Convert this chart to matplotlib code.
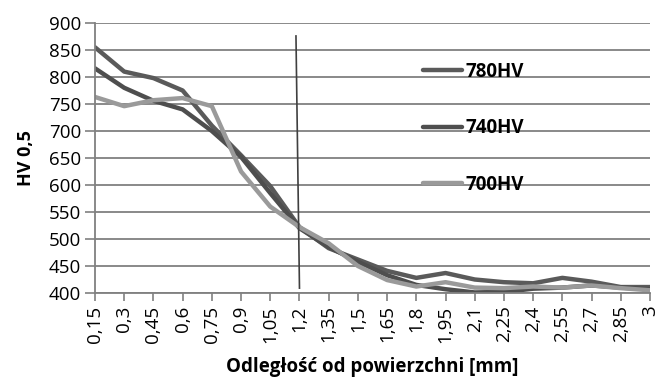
import matplotlib.pyplot as plt

# Dane - twardość HV 0,5 w funkcji odległości od powierzchni
odleglosc = ["0,15", "0,3", "0,45", "0,6", "0,75", "0,9", "1,05", "1,2", "1,35", "1,5",
             "1,65", "1,8", "1,95", "2,1", "2,25", "2,4", "2,55", "2,7", "2,85", "3"]
hv_780 = [855, 810, 798, 775, 710, 655, 598, 522, 483, 462,
          441, 428, 437, 425, 420, 418, 428, 421, 411, 411]
hv_740 = [816, 780, 756, 740, 700, 652, 585, 520, 485, 458,
          433, 415, 407, 401, 402, 408, 410, 414, 410, 407]
hv_700 = [763, 746, 757, 761, 746, 625, 560, 522, 492, 450,
          424, 412, 420, 410, 409, 412, 410, 414, 409, 405]
etykiety = ["780HV", "740HV", "700HV"]

# linia graniczna (1,2 mm)
granica_x = [6.88, 7.0]
granica_y = [876, 409]

plt.rcParams['font.family'] = ['Open Sans', 'DejaVu Sans']

fig = plt.figure(figsize=(6.55, 3.8), dpi=100)
ax = fig.add_axes([95 / 655, 1 - 293 / 380, 555 / 655, 270 / 380])

x = list(range(len(odleglosc)))
ax.plot(x, hv_780, color="#5a5a5a", linewidth=3.2, label=etykiety[0], solid_capstyle="round")
ax.plot(x, hv_740, color="#4e4e4e", linewidth=3.2, label=etykiety[1], solid_capstyle="round")
ax.plot(x, hv_700, color="#9a9a9a", linewidth=3.2, label=etykiety[2], solid_capstyle="round")
ax.plot(granica_x, granica_y, color="#404040", linewidth=1.2)

ax.set_xlim(0, len(odleglosc) - 1)
ax.set_ylim(400, 900)
ax.set_yticks(range(400, 901, 50))
ax.set_xticks(x)
ax.set_xticklabels(odleglosc, rotation=90, fontsize=13.5)
ax.tick_params(axis="y", labelsize=13.5, length=7, color="#808080", width=1.2, pad=3)
ax.tick_params(axis="x", length=6, color="#808080", width=1.2, pad=3)

ax.grid(axis="y", color="#808080", linewidth=1.3)
ax.set_axisbelow(True)
for s in ["top", "right"]:
    ax.spines[s].set_visible(False)
for s in ["left", "bottom"]:
    ax.spines[s].set_color("#808080")
    ax.spines[s].set_linewidth(1.3)

ax.set_ylabel("HV 0,5", fontsize=13, fontweight="bold", labelpad=10)
ax.set_xlabel("Odległość od powierzchni [mm]", fontsize=13.5, fontweight="bold", labelpad=10)

leg = ax.legend(loc="upper left", bbox_to_anchor=(406 / 655, 1 - 45 / 380),
                bbox_transform=fig.transFigure, frameon=False,
                handlelength=2.1, handletextpad=0.2, labelspacing=1.95,
                prop={"weight": "bold", "size": 13.5})

fig.savefig("out.png", dpi=100)
